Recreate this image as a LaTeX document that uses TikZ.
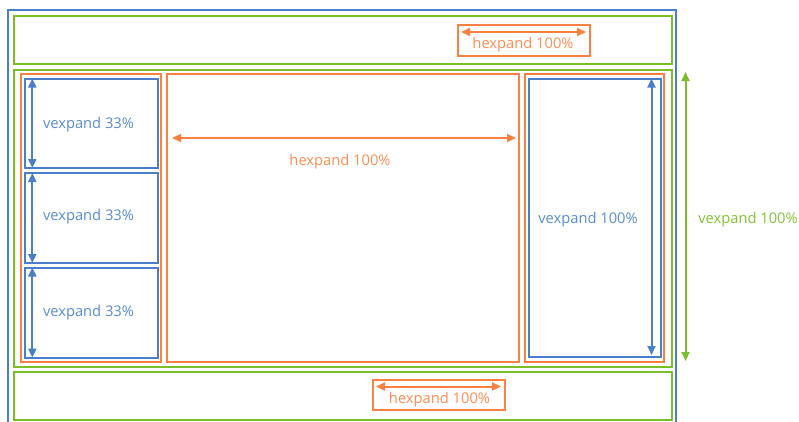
\documentclass[tikz,border=0pt]{standalone}
\usepackage{fontspec}
\setmainfont{Open Sans}
\usetikzlibrary{arrows.meta}
\definecolor{cblue}{RGB}{74,127,206}
\definecolor{corange}{RGB}{255,128,64}
\definecolor{cgreen}{RGB}{122,190,40}
\definecolor{tblue}{RGB}{90,140,214}
\definecolor{torange}{RGB}{255,142,84}
\definecolor{tgreen}{RGB}{132,196,52}
\tikzset{
  x=1pt,y=-1pt,
  box/.style={draw=#1,line width=2pt,inner sep=0pt,anchor=north west},
  dim/.style={draw=#1,line width=2pt,{Triangle[length=9pt,width=8pt]}-{Triangle[length=9pt,width=8pt]}},
  lbl/.style={text=#1,font=\fontsize{14.7}{17}\selectfont,inner sep=0pt},
}
\newcommand{\bx}[7]{\node[box=#2,minimum width={#5-#3},minimum height={#6-#4}] (#1) at (#3,#4) {#7};}
\begin{document}
\begin{tikzpicture}
\useasboundingbox (0,0) rectangle (799,421);
\begin{scope}
\clip (0,0) rectangle (799,421);
\draw[cblue,line width=2pt] (8,430) -- (8,10) -- (676,10) -- (676,430);
\end{scope}
% green rows
\bx{gtop}{cgreen}{13}{15}{671}{63}{}
\bx{gmid}{cgreen}{13}{69}{671}{366}{}
\bx{gbot}{cgreen}{13}{371}{671}{419}{}
% top hexpand box
\bx{otop}{corange}{457}{23.5}{589}{55}{}
\coordinate (ot1) at (461,32);
\coordinate (ot2) at (586,32);
\draw[dim=corange] (ot1) -- (ot2);
\node[lbl=torange] (tt) at (523,45) {hexpand 100\%};
% bottom hexpand box
\bx{obot}{corange}{372}{378.5}{504}{409}{}
\coordinate (ob1) at (376,386.5);
\coordinate (ob2) at (501,386.5);
\draw[dim=corange] (ob1) -- (ob2);
\node[lbl=torange] (tb) at (439.5,400) {hexpand 100\%};
% orange columns
\bx{oleft}{corange}{20}{73}{159.5}{361}{}
\bx{omid}{corange}{166}{73}{518}{361}{}
\bx{oright}{corange}{523.5}{73}{662.5}{361}{}
% blue left boxes
\bx{b1}{cblue}{24}{77.5}{156.5}{167}{}
\bx{b2}{cblue}{24}{172}{156.5}{262}{}
\bx{b3}{cblue}{24}{266.5}{156.5}{356.5}{}
\foreach \b in {b1,b2,b3}{
  \coordinate (\b t) at ([xshift=8.3pt,yshift=-1pt]\b.north west);
  \coordinate (\b b) at ([xshift=8.3pt,yshift=1pt]\b.south west);
  \draw[dim=cblue] (\b t) -- (\b b);
}
\node[lbl=tblue] (t1) at (88.5,124.5) {vexpand 33\%};
\node[lbl=tblue] (t2) at (88.5,216.5) {vexpand 33\%};
\node[lbl=tblue] (t3) at (88.5,312.5) {vexpand 33\%};
% middle hexpand arrow
\coordinate (m1) at (172,138);
\coordinate (m2) at (516,138);
\draw[dim=corange] (m1) -- (m2);
\node[lbl=torange] (tm) at (340,161.5) {hexpand 100\%};
% blue right box
\bx{br}{cblue}{527.5}{77.5}{660}{356}{}
\coordinate (brt) at (651.5,78.5);
\coordinate (brb) at (651.5,355);
\draw[dim=cblue] (brt) -- (brb);
\node[lbl=tblue] (tr) at (588,219.5) {vexpand 100\%};
% green vexpand arrow
\coordinate (g1) at (685.5,72);
\coordinate (g2) at (685.5,361);
\draw[dim=cgreen] (g1) -- (g2);
\node[lbl=tgreen] (tg) at (748,220) {vexpand 100\%};
\end{tikzpicture}
\end{document}
